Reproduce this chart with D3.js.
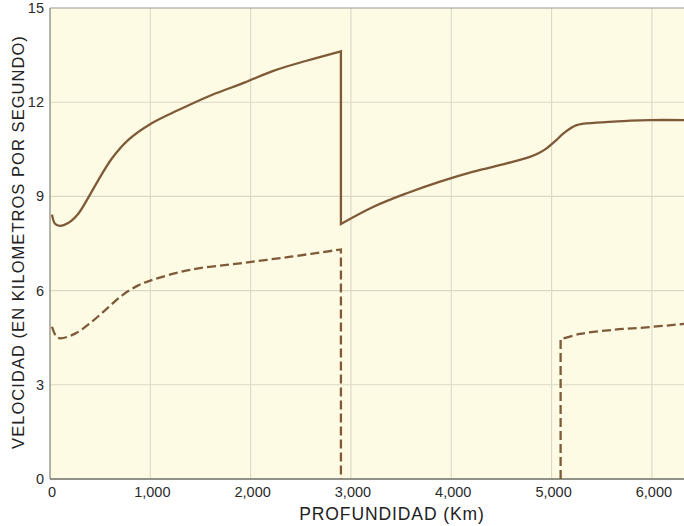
<!DOCTYPE html>
<html><head><meta charset="utf-8">
<script src="https://cdn.jsdelivr.net/npm/d3@7"></script>
<style>
html,body{margin:0;padding:0;background:#fff;}
svg{display:block;font-family:"Liberation Sans",Arial,Helvetica,sans-serif;}
</style></head>
<body>
<svg id="c" width="684" height="526"></svg>
<script>
// Depth (km) vs velocity (km/s)
const xTicks = [0, 1000, 2000, 3000, 4000, 5000, 6000];
const xTickLabels = ["0", "1,000", "2,000", "3,000", "4,000", "5,000", "6,000"];
const yTicks = [0, 3, 6, 9, 12, 15];
const yTickLabels = ["0", "3", "6", "9", "12", "15"];
const xTitle = "PROFUNDIDAD  (Km)";
const yTitle = "VELOCIDAD  (EN KILOMETROS POR SEGUNDO)";

// P waves (solid)
const pMantleDepth = [20, 50, 100, 180, 282, 383, 482, 615, 781, 1014, 1280, 1612, 1944, 2226, 2558, 2900];
const pMantleVel   = [8.42, 8.13, 8.06, 8.15, 8.45, 8.97, 9.52, 10.2, 10.8, 11.33, 11.75, 12.23, 12.63, 13.0, 13.32, 13.62];
const pCoreDepth = [2900, 3225, 3557, 3888, 4220, 4552, 4784, 4884, 4950, 5050, 5116, 5249, 5448, 5780, 5980, 6320];
const pCoreVel   = [8.12, 8.67, 9.10, 9.47, 9.79, 10.05, 10.26, 10.4, 10.53, 10.8, 11.0, 11.27, 11.35, 11.41, 11.43, 11.43];
// S waves (dashed)
const sMantleDepth = [20, 60, 100, 250, 399, 565, 720, 870, 1000, 1396, 1894, 2400, 2900];
const sMantleVel   = [4.85, 4.55, 4.48, 4.63, 4.96, 5.42, 5.85, 6.15, 6.32, 6.66, 6.87, 7.08, 7.31];
const sInnerDepth = [5090, 5284, 5616, 5948, 6320];
const sInnerVel   = [4.45, 4.62, 4.75, 4.83, 4.94];

const svg = d3.select("#c");
const L = 50, R = 684, T = 8, B = 479;
const x = d3.scaleLinear().domain([0, 6320]).range([L, R]);
const y = d3.scaleLinear().domain([0, 15]).range([B, T]);

svg.append("rect").attr("x", L).attr("y", T).attr("width", R - L).attr("height", B - T).attr("fill", "#fefbe4");

// grid
svg.append("g").selectAll("line").data(xTicks.filter(d => d > 0)).join("line")
  .attr("x1", d => x(d)).attr("x2", d => x(d)).attr("y1", T).attr("y2", B)
  .attr("stroke", "#dbd8c8").attr("stroke-width", 1.1);
svg.append("g").selectAll("line").data(yTicks.filter(d => d > 0 && d < 15)).join("line")
  .attr("x1", L).attr("x2", R).attr("y1", d => y(d)).attr("y2", d => y(d))
  .attr("stroke", "#dbd8c8").attr("stroke-width", 1.1);
// border lines
svg.append("line").attr("x1", L).attr("x2", R).attr("y1", y(15)).attr("y2", y(15)).attr("stroke", "#9a9a90").attr("stroke-width", 1.2);
svg.append("line").attr("x1", L).attr("x2", L).attr("y1", T).attr("y2", B).attr("stroke", "#8a8a80").attr("stroke-width", 1.3);
svg.append("line").attr("x1", L).attr("x2", R).attr("y1", B).attr("y2", B).attr("stroke", "#6e6e66").attr("stroke-width", 1.6);

// tick labels
svg.append("g").selectAll("text").data(yTicks).join("text")
  .attr("x", 44).attr("y", d => y(d)).attr("dy", "0.35em").attr("text-anchor", "end")
  .attr("font-size", 14.5).attr("fill", "#2a2a2a").text((d, i) => yTickLabels[i]);
svg.append("g").selectAll("text").data(xTicks).join("text")
  .attr("x", d => x(d) + 2).attr("y", 492).attr("dy", "0.35em").attr("text-anchor", "middle")
  .attr("font-size", 14.5).attr("fill", "#2a2a2a").text((d, i) => xTickLabels[i]);

// titles
svg.append("text").attr("x", 392).attr("y", 514).attr("dy", "0.35em").attr("text-anchor", "middle")
  .attr("font-size", 17.5).attr("letter-spacing", 0.9).attr("fill", "#222").text(xTitle);
svg.append("text").attr("transform", "translate(18,242) rotate(-90)").attr("dy", "0.35em").attr("text-anchor", "middle")
  .attr("font-size", 16.5).attr("letter-spacing", 1.05).attr("fill", "#222").text(yTitle);

// curves
const line = d3.line().x(d => x(d[0])).y(d => y(d[1])).curve(d3.curveCatmullRom.alpha(0.5));
const zip = (a, b) => a.map((d, i) => [d, b[i]]);
const pM = zip(pMantleDepth, pMantleVel), pC = zip(pCoreDepth, pCoreVel);
const sM = zip(sMantleDepth, sMantleVel), sI = zip(sInnerDepth, sInnerVel);

const pPath = line(pM) + line(pC).replace(/^M/, "L");
const sPath1 = line(sM) + "L" + x(sMantleDepth[sMantleDepth.length - 1]) + "," + y(0);
const sPath2 = "M" + x(sInnerDepth[0]) + "," + y(0) + line(sI).replace(/^M/, "L");

const col = "#7e5a38";
svg.append("path").attr("d", pPath).attr("fill", "none").attr("stroke", col).attr("stroke-width", 2.3).attr("stroke-linejoin", "miter");
svg.append("path").attr("d", sPath1).attr("fill", "none").attr("stroke", col).attr("stroke-width", 2.3).attr("stroke-dasharray", "9,4");
svg.append("path").attr("d", sPath2).attr("fill", "none").attr("stroke", col).attr("stroke-width", 2.3).attr("stroke-dasharray", "9,4");
</script>
</body></html>
